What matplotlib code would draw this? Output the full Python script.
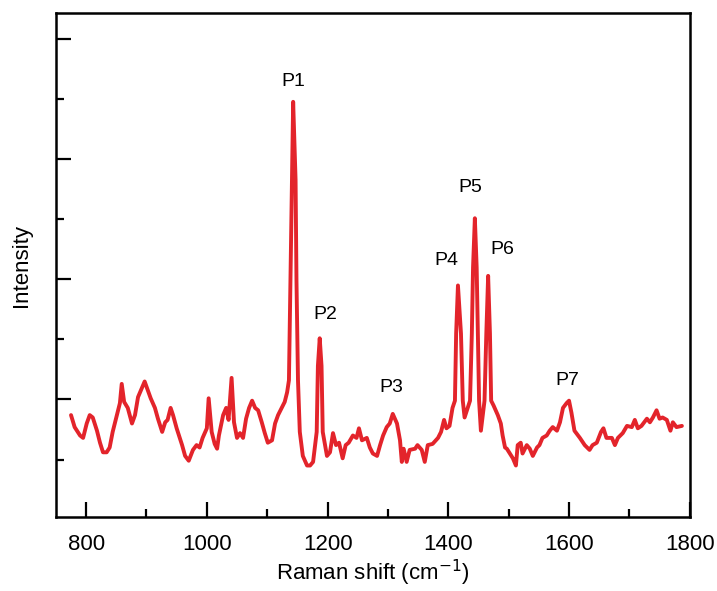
import matplotlib

matplotlib.use("Agg")
import matplotlib.pyplot as plt
from matplotlib.ticker import MultipleLocator

plt.rcParams["font.family"] = ["Liberation Sans", "DejaVu Sans"]

# Raman shift (cm-1) and intensity (a.u.)
shift = [
    775, 781, 790, 795, 801, 806, 811, 818, 823, 828, 834, 839, 844, 851, 856, 859, 863, 869,
    876, 881, 886, 892, 897, 902, 907, 914, 919, 926, 931, 935, 940, 944, 950, 959, 964, 970,
    977, 983, 988, 993, 1000, 1003, 1008, 1013, 1017, 1020, 1027, 1032, 1036, 1041, 1045, 1050,
    1055, 1060, 1065, 1070, 1075, 1080, 1085, 1091, 1096, 1101, 1108, 1113, 1118, 1124, 1129,
    1133, 1136, 1138.5, 1141, 1143, 1147, 1148.5, 1151, 1154, 1159, 1166, 1171, 1176, 1182,
    1184, 1187, 1190, 1192, 1199, 1204, 1209, 1214, 1219, 1225, 1230, 1235, 1242, 1248, 1252,
    1257, 1265, 1270, 1275, 1282, 1287, 1292, 1298, 1303, 1308, 1315, 1320, 1323, 1326, 1331,
    1336, 1345, 1349, 1356, 1361, 1366, 1374, 1383, 1388, 1393, 1397, 1402, 1407, 1411, 1413,
    1416, 1421, 1424, 1427, 1436, 1439, 1441, 1444, 1447, 1449, 1451, 1454, 1460, 1463, 1466,
    1469, 1471, 1475, 1482, 1487, 1490, 1494, 1497, 1502, 1507, 1512, 1515, 1520, 1523, 1530,
    1535, 1540, 1547, 1551, 1556, 1563, 1568, 1573, 1580, 1585, 1590, 1596, 1600, 1604, 1609,
    1618, 1626, 1634, 1639, 1646, 1653, 1657, 1662, 1671, 1676, 1681, 1689, 1696, 1704, 1709,
    1714, 1720, 1729, 1734, 1739, 1745, 1750, 1755, 1762, 1768, 1772, 1778, 1787,
]
intensity = [
    0.87, 0.77, 0.70, 0.68, 0.80, 0.87, 0.85, 0.74, 0.64, 0.56, 0.56, 0.60, 0.73, 0.87, 0.97, 1.13, 0.98, 0.93,
    0.80, 0.87, 1.02, 1.09, 1.15, 1.08, 1.01, 0.93, 0.84, 0.73, 0.81, 0.83, 0.93, 0.87, 0.76, 0.62, 0.53, 0.49,
    0.58, 0.62, 0.60, 0.68, 0.76, 1.01, 0.73, 0.63, 0.59, 0.70, 0.87, 0.93, 0.83, 1.18, 0.81, 0.68,
    0.72, 0.68, 0.84, 0.93, 0.99, 0.93, 0.91, 0.81, 0.72, 0.64, 0.66, 0.80, 0.87, 0.93, 0.98,
    1.06, 1.16, 1.99, 2.83, 3.48, 2.83, 1.99, 1.16, 0.73, 0.53, 0.45, 0.45, 0.48, 0.73,
    1.28, 1.51, 1.28, 0.73, 0.53, 0.56, 0.72, 0.62, 0.64, 0.51, 0.62, 0.64, 0.70, 0.68, 0.76,
    0.66, 0.68, 0.60, 0.55, 0.53, 0.62, 0.70, 0.77, 0.80, 0.88, 0.80, 0.66, 0.48, 0.59, 0.48,
    0.58, 0.59, 0.62, 0.58, 0.48, 0.62, 0.63, 0.68, 0.73, 0.83, 0.76, 0.78, 0.93, 0.99, 1.55,
    1.95, 1.55, 0.99, 0.85, 0.99, 1.55, 2.10, 2.51, 2.10, 1.55, 0.99, 0.74, 0.99, 1.55, 2.03,
    1.55, 0.99, 0.95, 0.87, 0.80, 0.70, 0.60, 0.59, 0.55, 0.51, 0.45, 0.62, 0.64, 0.55, 0.62,
    0.59, 0.53, 0.60, 0.62, 0.68, 0.70, 0.74, 0.77, 0.74, 0.81, 0.93, 0.97, 0.99, 0.89, 0.74,
    0.68, 0.62, 0.58, 0.62, 0.64, 0.73, 0.76, 0.68, 0.68, 0.62, 0.68, 0.72, 0.78, 0.77, 0.83,
    0.76, 0.78, 0.84, 0.81, 0.85, 0.91, 0.84, 0.85, 0.83, 0.74, 0.81, 0.77, 0.78,
]

peak_labels = ["P1", "P2", "P3", "P4", "P5", "P6", "P7"]
label_x = [1143, 1197, 1305, 1396, 1436, 1489, 1597]
label_y = [3.65, 1.71, 1.10, 2.16, 2.77, 2.25, 1.16]

fig = plt.figure(figsize=(7.17, 5.91), dpi=100)
ax = fig.add_axes([0.078, 0.125, 0.884, 0.853])

ax.plot(shift, intensity, color="#e3242b", linewidth=2.8,
        solid_joinstyle="round", solid_capstyle="round")

for text, x, y in zip(peak_labels, label_x, label_y):
    ax.text(x, y, text, ha="center", va="center", fontsize=14)

ax.set_xlim(750, 1800)
ax.set_ylim(0.02, 4.22)
ax.xaxis.set_major_locator(MultipleLocator(200))
ax.xaxis.set_minor_locator(MultipleLocator(100))
ax.yaxis.set_major_locator(MultipleLocator(1))
ax.yaxis.set_minor_locator(MultipleLocator(0.5))
ax.tick_params(which="major", direction="in", length=11, width=1.6, labelsize=16, pad=12)
ax.tick_params(which="minor", direction="in", length=6, width=1.6)
ax.tick_params(axis="y", labelleft=False)
for spine in ax.spines.values():
    spine.set_linewidth(1.8)

ax.set_xlabel("Raman shift (cm$^{-1}$)", fontsize=16, labelpad=2)
ax.set_ylabel("Intensity", fontsize=16, labelpad=14)

fig.savefig("out.png", dpi=100)
